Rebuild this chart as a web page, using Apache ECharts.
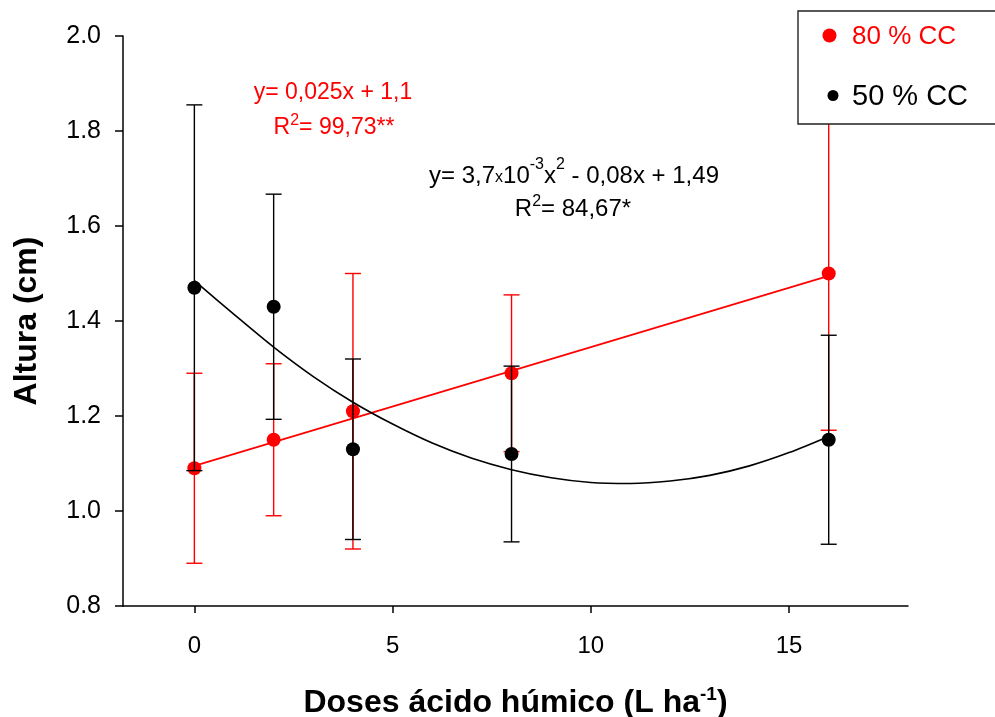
<!DOCTYPE html>
<html>
  <head>
    <meta charset="utf-8" />
    <title>Altura x Doses ácido húmico</title>
    <script src="https://cdn.jsdelivr.net/npm/echarts@6/dist/echarts.min.js"></script>
    <style>
      html, body { margin: 0; padding: 0; background: #fff; }
      #chart { width: 995px; height: 717px; }
    </style>
  </head>
  <body>
    <div id="chart"></div>
    <script>
      // dados
      var doses = [0, 2, 4, 8, 16];
      var media80 = [1.09, 1.15, 1.21, 1.29, 1.50];
      var erro80 = [0.20, 0.16, 0.29, 0.165, 0.33];
      var media50 = [1.47, 1.43, 1.13, 1.12, 1.15];
      var erro50 = [0.385, 0.237, 0.19, 0.185, 0.22];

      // curvas ajustadas
      var ajusteX80 = [0, 16];
      var ajuste80 = [1.095, 1.495];
      var ajusteX50 = [0, 1, 2, 3, 4, 5, 6, 7, 8, 9, 10, 11, 12, 13, 14, 15, 16];
      var ajuste50 = [1.485, 1.414, 1.345, 1.283, 1.229, 1.183, 1.143, 1.111, 1.087,
                      1.070, 1.060, 1.058, 1.063, 1.075, 1.095, 1.123, 1.157];

      var xTicks = [0, 5, 10, 15];
      var nomes = ["80 % CC", "50 % CC"];

      var FONT = "Liberation Sans, Arial, sans-serif";

      function pares(xs, ys) {
        var out = [];
        for (var i = 0; i < xs.length; i++) out.push([xs[i], ys[i]]);
        return out;
      }
      function barras(xs, m, e) {
        var out = [];
        for (var i = 0; i < xs.length; i++) out.push([xs[i], m[i] - e[i], m[i] + e[i]]);
        return out;
      }
      function errRender(color) {
        return function (params, api) {
          var x = api.value(0);
          var lo = api.coord([x, api.value(1)]);
          var hi = api.coord([x, api.value(2)]);
          var w = 8;
          var st = { stroke: color, lineWidth: 1.4 };
          return {
            type: "group",
            children: [
              { type: "line", shape: { x1: lo[0], y1: lo[1], x2: hi[0], y2: hi[1] }, style: st },
              { type: "line", shape: { x1: lo[0] - w, y1: lo[1], x2: lo[0] + w, y2: lo[1] }, style: st },
              { type: "line", shape: { x1: hi[0] - w, y1: hi[1], x2: hi[0] + w, y2: hi[1] }, style: st }
            ]
          };
        };
      }
      // expoente: padding inferior empurra o texto para cima
      function sup(size, color, raise) {
        return { fontSize: size, fontFamily: FONT, fill: color, padding: [0, 0, raise * 2, 0] };
      }

      var myChart = echarts.init(document.getElementById("chart"), null, { renderer: "canvas" });

      var option = {
        animation: false,
        backgroundColor: "#fff",
        grid: { left: 123, right: 87, top: 36, bottom: 111, outerBoundsMode: "none" },
        xAxis: {
          type: "value",
          min: -1.8,
          max: 18,
          name: "Doses ácido húmico (L ha{sup|-1})",
          nameLocation: "middle",
          nameGap: 79,
          nameTextStyle: {
            fontSize: 32, fontWeight: "bold", fontFamily: FONT, color: "#000",
            rich: { sup: { fontSize: 19, fontWeight: "bold", fontFamily: FONT, color: "#000", padding: [0, 0, 18, 0] } }
          },
          splitLine: { show: false },
          axisLine: { onZero: false, lineStyle: { color: "#000", width: 1.5 } },
          axisTick: { customValues: xTicks, length: 7, lineStyle: { color: "#000", width: 1.5 } },
          axisLabel: { customValues: xTicks, fontSize: 24, fontFamily: FONT, color: "#000", margin: 28 }
        },
        yAxis: {
          type: "value",
          min: 0.8,
          max: 2.0,
          interval: 0.2,
          name: "Altura (cm)",
          nameLocation: "middle",
          nameGap: 80,
          nameTextStyle: { fontSize: 32, fontWeight: "bold", fontFamily: FONT, color: "#000" },
          splitLine: { show: false },
          axisLine: { show: true, onZero: false, lineStyle: { color: "#000", width: 1.5 } },
          axisTick: { show: true, length: 8, lineStyle: { color: "#000", width: 1.5 } },
          axisLabel: {
            fontSize: 25, fontFamily: FONT, color: "#000", margin: 22,
            formatter: function (v) { return v.toFixed(1); }
          }
        },
        series: [
          {
            name: nomes[0] + " erro", type: "custom", renderItem: errRender("#ff0000"),
            data: barras(doses, media80, erro80), encode: { x: 0, y: [1, 2] }, z: 2
          },
          {
            name: nomes[0] + " ajuste", type: "line", data: pares(ajusteX80, ajuste80),
            showSymbol: false, lineStyle: { color: "#ff0000", width: 1.6 }, z: 3
          },
          {
            name: nomes[0], type: "scatter", data: pares(doses, media80),
            symbolSize: 14, itemStyle: { color: "#ff0000", opacity: 1 }, z: 4
          },
          {
            name: nomes[1] + " erro", type: "custom", renderItem: errRender("#000000"),
            data: barras(doses, media50, erro50), encode: { x: 0, y: [1, 2] }, z: 5
          },
          {
            name: nomes[1] + " ajuste", type: "line", data: pares(ajusteX50, ajuste50),
            smooth: 0.3, showSymbol: false, lineStyle: { color: "#000", width: 1.6 }, z: 6
          },
          {
            name: nomes[1], type: "scatter", data: pares(doses, media50),
            symbolSize: 14, itemStyle: { color: "#000", opacity: 1 }, z: 7
          }
        ],
        graphic: [
          // equações
          {
            type: "text", x: 333, y: 93, z: 50,
            style: { text: "y= 0,025x + 1,1", fill: "#ff0000", font: "23px " + FONT, align: "center", verticalAlign: "middle" }
          },
          {
            type: "text", x: 334, y: 128, z: 50,
            style: {
              text: "R{sup|2}= 99,73**", fill: "#ff0000", fontSize: 23, fontFamily: FONT,
              align: "center", verticalAlign: "middle",
              rich: { sup: sup(16, "#ff0000", 7) }
            }
          },
          {
            type: "text", x: 574, y: 176, z: 50,
            style: {
              text: "y= 3,7{sm|x}10{sup|-3}x{sup|2} - 0,08x + 1,49", fill: "#000", fontSize: 24, fontFamily: FONT,
              align: "center", verticalAlign: "middle",
              rich: {
                sup: sup(16, "#000", 11),
                sm: { fontSize: 16, fontFamily: FONT, fill: "#000", padding: [3, 0, 0, 0] }
              }
            }
          },
          {
            type: "text", x: 573, y: 209, z: 50,
            style: {
              text: "R{sup|2}= 84,67*", fill: "#000", fontSize: 24, fontFamily: FONT,
              align: "center", verticalAlign: "middle",
              rich: { sup: sup(16, "#000", 7) }
            }
          },
          // legenda
          {
            type: "rect", z: 100, shape: { x: 798, y: 11, width: 230, height: 113 },
            style: { fill: "#fff", stroke: "#222", lineWidth: 1.4 }
          },
          {
            type: "circle", z: 101, shape: { cx: 829.5, cy: 35.5, r: 7 },
            style: { fill: "#ff0000" }
          },
          {
            type: "text", z: 101, x: 852, y: 37,
            style: { text: nomes[0], fill: "#ff0000", font: "26px " + FONT, align: "left", verticalAlign: "middle" }
          },
          {
            type: "circle", z: 101, shape: { cx: 833, cy: 95.5, r: 5.5 },
            style: { fill: "#000" }
          },
          {
            type: "text", z: 101, x: 852, y: 97,
            style: { text: nomes[1], fill: "#000", font: "29px " + FONT, align: "left", verticalAlign: "middle" }
          }
        ]
      };

      myChart.setOption(option);
    </script>
  </body>
</html>
